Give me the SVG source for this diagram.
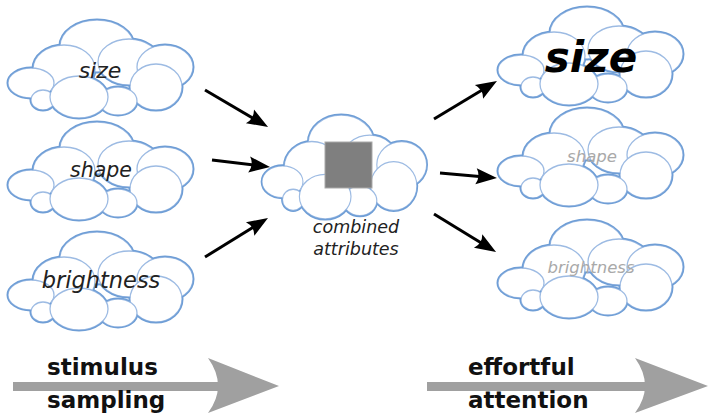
<svg xmlns="http://www.w3.org/2000/svg" xmlns:xlink="http://www.w3.org/1999/xlink" width="709" height="418" viewBox="0 0 709 418">
<style>
.inner{fill:#fff;stroke:#9dbbe3;stroke-width:1.3}
.outer{fill:none;stroke:#6f9ed6;stroke-width:3}
.t{font-family:"DejaVu Sans",sans-serif;font-style:italic;fill:#222;text-anchor:middle}
.g{fill:#a9a9a9}
.k{fill:#000;font-weight:bold}
.b{font-family:"DejaVu Sans",sans-serif;font-weight:bold;fill:#111;font-size:23px}
.ar{stroke:#000;stroke-width:3;fill:none;marker-end:url(#ah)}
.big{fill:#a0a0a0}
</style>
<defs>
<marker id="ah" markerUnits="userSpaceOnUse" viewBox="-10 -10 24 20" markerWidth="24" markerHeight="20" refX="0" refY="0" orient="auto" overflow="visible">
<path d="M12,0 L-9,-8 Q-4,0 -9,8 Z" fill="#000"/>
</marker>
<g id="ells">
<ellipse cx="89" cy="26" rx="37" ry="26"/>
<ellipse cx="56" cy="49" rx="31" ry="24"/>
<ellipse cx="121" cy="42" rx="31" ry="23"/>
<ellipse cx="157" cy="47" rx="28" ry="22"/>
<ellipse cx="23" cy="63" rx="23" ry="15"/>
<ellipse cx="148" cy="67" rx="26" ry="23"/>
<ellipse cx="110" cy="81" rx="19" ry="14"/>
<ellipse cx="35" cy="80" rx="12" ry="10"/>
<ellipse cx="71" cy="77" rx="29" ry="21"/>
</g>
<mask id="outm" maskUnits="userSpaceOnUse" x="-10" y="-10" width="210" height="120">
<rect x="-10" y="-10" width="210" height="120" fill="#fff"/>
<use xlink:href="#ells" href="#ells" fill="#000"/>
</mask>
<g id="cloud">
<use xlink:href="#ells" href="#ells" class="inner"/>
<g mask="url(#outm)"><use xlink:href="#ells" href="#ells" class="outer"/></g>
</g>
</defs>
<rect width="709" height="418" fill="#fff"/>
<g id="n-size">
<use xlink:href="#cloud" href="#cloud" transform="translate(8,20)"/>
<text class="t" x="100" y="78" font-size="22">size</text>
</g>
<g id="n-shape">
<use xlink:href="#cloud" href="#cloud" transform="translate(8,122)"/>
<text class="t" x="101" y="177" font-size="20.5">shape</text>
</g>
<g id="n-brightness">
<use xlink:href="#cloud" href="#cloud" transform="translate(8,232)"/>
<text class="t" x="101" y="288" font-size="22.5">brightness</text>
</g>
<g id="n-combined">
<use xlink:href="#cloud" href="#cloud" transform="translate(262,115) scale(0.89,1.06)"/>
<rect x="325" y="142" width="47" height="46" fill="#7f7f7f" stroke="#aaa" stroke-width="1"/>
<text class="t" x="356" y="233" font-size="17.5">combined</text>
<text class="t" x="356" y="255" font-size="17.5">attributes</text>
</g>
<g id="n-size2">
<use xlink:href="#cloud" href="#cloud" transform="translate(498,7)"/>
<text class="t k" x="591" y="72" font-size="42">size</text>
</g>
<g id="n-shape2">
<use xlink:href="#cloud" href="#cloud" transform="translate(498,108)"/>
<text class="t g" x="592" y="162" font-size="16.5">shape</text>
</g>
<g id="n-brightness2">
<use xlink:href="#cloud" href="#cloud" transform="translate(498,220)"/>
<text class="t g" x="591" y="273" font-size="16.5">brightness</text>
</g>
<g id="connectors">
<path class="ar" d="M205,90 L257.7,120.9"/>
<path class="ar" d="M212,160 L258.1,165.6"/>
<path class="ar" d="M205,257 L257.8,224.3"/>
<path class="ar" d="M434,119 L486.7,87.2"/>
<path class="ar" d="M440,173 L485,177"/>
<path class="ar" d="M434,214 L485.8,245.7"/>
</g>
<g id="stage-sampling">
<rect class="big" x="13" y="382" width="205" height="9"/>
<path class="big" d="M208,358 L279,386 L208,413 Q228,386 208,358 Z"/>
<text class="b" x="47" y="375">stimulus</text>
<text class="b" x="47" y="408">sampling</text>
</g>
<g id="stage-attention">
<rect class="big" x="427" y="382" width="218" height="9"/>
<path class="big" d="M635,358 L708,386 L635,413 Q655,386 635,358 Z"/>
<text class="b" x="468" y="375">effortful</text>
<text class="b" x="468" y="408">attention</text>
</g>
</svg>
